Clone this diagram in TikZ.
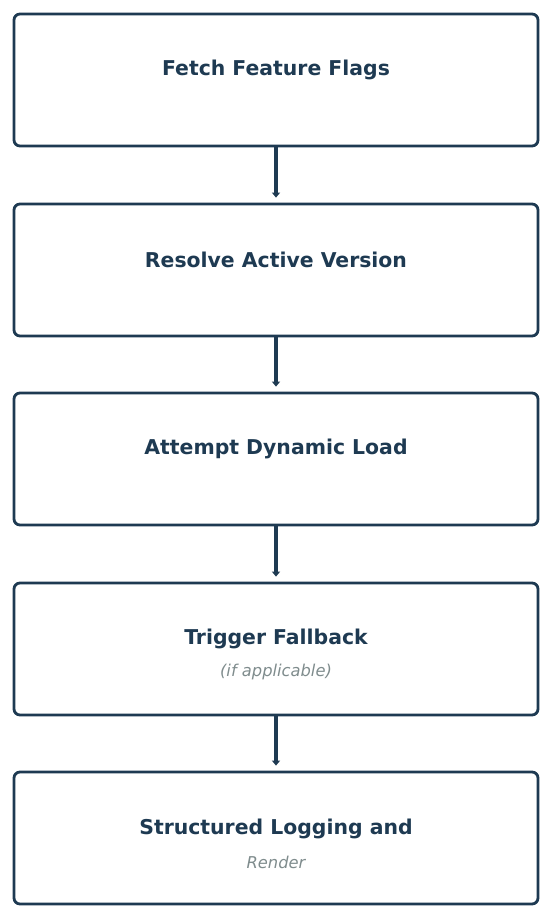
\documentclass[tikz,border=0pt]{standalone}
\usepackage{fontspec}
\setmainfont{DejaVu Sans}
\usetikzlibrary{arrows.meta}
\definecolor{navy}{HTML}{1E3A52}
\definecolor{subgray}{HTML}{7F8C8D}
\begin{document}
\begin{tikzpicture}[x=1pt,y=-1pt,
  box/.style={draw=navy,line width=2.8pt,rounded corners=6pt,fill=white,minimum width=524pt,minimum height=132pt,inner sep=0pt},
  ttl/.style={text=navy,font=\fontsize{20.4}{24}\selectfont\bfseries},
  sub/.style={text=subgray,font=\fontsize{16.3}{19}\selectfont\itshape},
  conn/.style={draw=navy,line width=4pt,-{Triangle[length=5pt,width=8pt]},shorten >=5pt}]
\useasboundingbox (0,0) rectangle (550,916);
\node[box] (b1) at (276,80) {};
\node[box] (b2) at (276,270) {};
\node[box] (b3) at (276,459) {};
\node[box] (b4) at (276,649) {};
\node[box] (b5) at (276,838) {};
\node[ttl] (t1) at (276,70) {Fetch Feature Flags};
\node[ttl] (t2) at (276,260) {Resolve Active Version};
\node[ttl] (t3) at (276,449) {Attempt Dynamic Load};
\node[ttl] (t4) at (276,639) {Trigger Fallback};
\node[sub] (s4) at (276,672) {(if applicable)};
\node[ttl] (t5) at (276,829) {Structured Logging and};
\node[sub] (s5) at (276,862) {Render};
\draw[conn] (b1.south) -- (b2.north);
\draw[conn] (b2.south) -- (b3.north);
\draw[conn] (b3.south) -- (b4.north);
\draw[conn] (b4.south) -- (b5.north);
\end{tikzpicture}
\end{document}
